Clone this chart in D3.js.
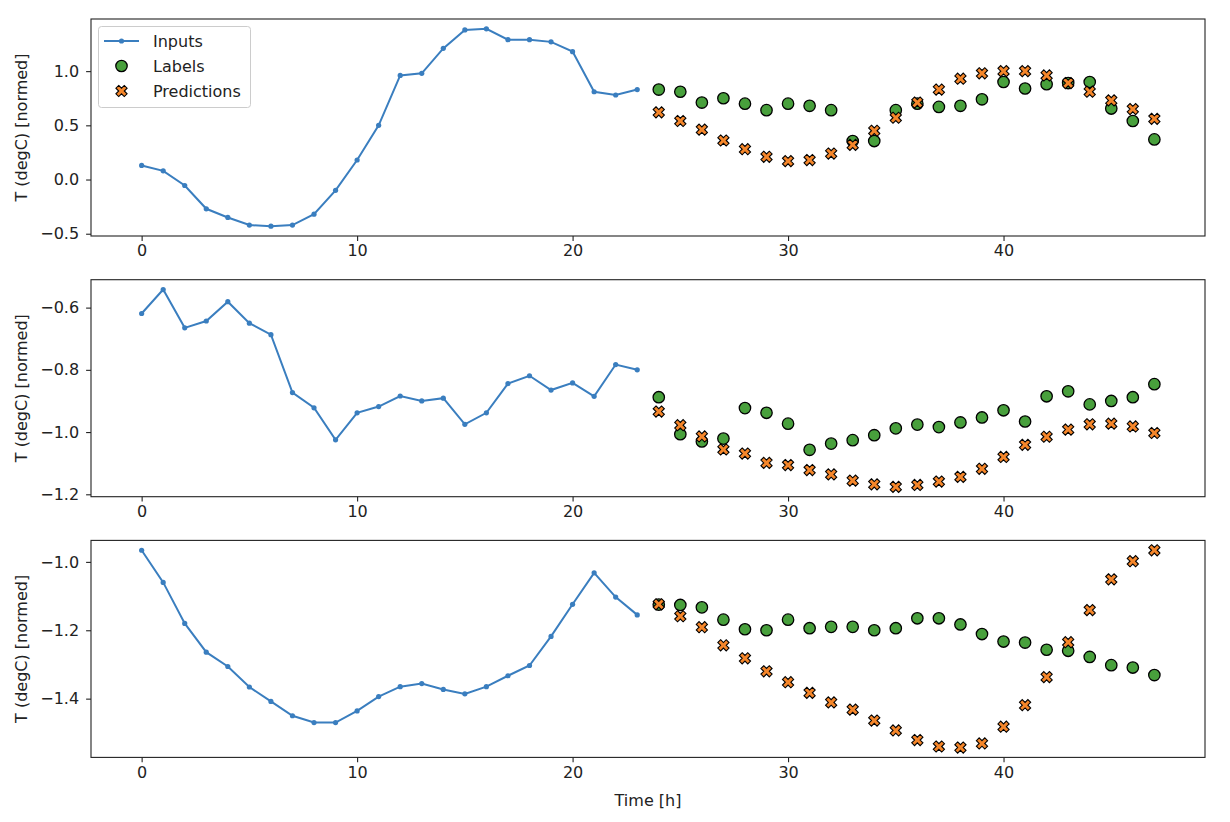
<!DOCTYPE html>
<html>
<head>
<meta charset="utf-8">
<script src="https://cdn.jsdelivr.net/npm/d3@7"></script>
<style>
body { margin: 0; background: #fff; }
svg { display: block; font-family: "DejaVu Sans", sans-serif; }
</style>
</head>
<body>
<div id="chart"></div>
<script>
// Hours: first 24 are inputs, last 24 are labels / predictions
const inputHours = d3.range(0, 24);
const labelHours = d3.range(24, 48);

// Panel 1
const inputs1 = [0.13, 0.08, -0.055, -0.27, -0.35, -0.42, -0.43, -0.42, -0.32, -0.10, 0.18, 0.50,
  0.96, 0.98, 1.21, 1.38, 1.39, 1.29, 1.29, 1.27, 1.18, 0.81, 0.78, 0.83];
const labels1 = [0.83, 0.81, 0.71, 0.75, 0.70, 0.64, 0.70, 0.68, 0.64, 0.355, 0.355, 0.64,
  0.70, 0.67, 0.68, 0.74, 0.90, 0.84, 0.88, 0.89, 0.90, 0.655, 0.54, 0.37];
const preds1 = [0.62, 0.54, 0.46, 0.36, 0.28, 0.21, 0.17, 0.18, 0.24, 0.32, 0.45, 0.57,
  0.71, 0.83, 0.93, 0.98, 1.00, 1.00, 0.96, 0.89, 0.81, 0.73, 0.65, 0.56];

// Panel 2
const inputs2 = [-0.619, -0.542, -0.665, -0.643, -0.581, -0.650, -0.687, -0.873, -0.922, -1.025, -0.938, -0.918,
  -0.884, -0.900, -0.891, -0.975, -0.938, -0.844, -0.819, -0.865, -0.842, -0.885, -0.783, -0.800];
const labels2 = [-0.888, -1.007, -1.030, -1.021, -0.923, -0.938, -0.973, -1.057, -1.037, -1.026, -1.010, -0.988,
  -0.976, -0.984, -0.969, -0.953, -0.930, -0.966, -0.885, -0.869, -0.911, -0.900, -0.888, -0.846];
const preds2 = [-0.934, -0.978, -1.014, -1.056, -1.069, -1.099, -1.106, -1.122, -1.136, -1.156, -1.168, -1.176,
  -1.170, -1.159, -1.144, -1.118, -1.080, -1.041, -1.015, -0.992, -0.975, -0.973, -0.982, -1.003];

// Panel 3
const inputs3 = [-0.966, -1.060, -1.180, -1.264, -1.306, -1.366, -1.408, -1.450, -1.470, -1.470, -1.436, -1.394,
  -1.365, -1.356, -1.373, -1.386, -1.365, -1.333, -1.303, -1.218, -1.124, -1.032, -1.103, -1.155];
const labels3 = [-1.125, -1.126, -1.133, -1.169, -1.197, -1.200, -1.169, -1.194, -1.190, -1.190, -1.200, -1.194,
  -1.165, -1.165, -1.183, -1.211, -1.233, -1.236, -1.257, -1.260, -1.278, -1.302, -1.309, -1.331];
const preds3 = [-1.124, -1.159, -1.191, -1.244, -1.282, -1.320, -1.352, -1.383, -1.411, -1.432, -1.464, -1.493,
  -1.521, -1.540, -1.543, -1.531, -1.482, -1.419, -1.337, -1.235, -1.141, -1.051, -0.998, -0.966];

// Tick values
const xTicks = [0, 10, 20, 30, 40];
const yTicks1 = [-0.5, 0.0, 0.5, 1.0];
const yTicks2 = [-1.2, -1.0, -0.8, -0.6];
const yTicks3 = [-1.4, -1.2, -1.0];

const panels = [
  {inputs: inputs1, labels: labels1, preds: preds1, ticks: yTicks1},
  {inputs: inputs2, labels: labels2, preds: preds2, ticks: yTicks2},
  {inputs: inputs3, labels: labels3, preds: preds3, ticks: yTicks3}
];

const colInputs = "#3a7ebf";
const colLabels = "#48a03c";
const colPreds = "#f5862a";
const fontSize = 16;

const W = 1230, H = 822;
const plotLeft = 91, plotRight = 1205;
const panelH = 217, panelStep = 260.7, firstTop = 19;

const svg = d3.select("#chart").append("svg")
  .attr("width", W)
  .attr("height", H);

// matplotlib style 5% padding on data limits
function padded(ext) {
  const p = (ext[1] - ext[0]) * 0.05;
  return [ext[0] - p, ext[1] + p];
}

const allHours = inputHours.concat(labelHours);
const x = d3.scaleLinear()
  .domain(padded(d3.extent(allHours)))
  .range([plotLeft, plotRight]);

const fmt = d3.format(".1f");
const xSymbol = d3.symbol().type(d3.symbolCross).size(78);

panels.forEach((p, i) => {
  const top = firstTop + i * panelStep;
  const bottom = top + panelH;
  const y = d3.scaleLinear()
    .domain(padded(d3.extent(p.inputs.concat(p.labels, p.preds))))
    .range([bottom, top]);

  const g = svg.append("g");

  // Inputs line
  const line = d3.line()
    .x((d, j) => x(inputHours[j]))
    .y(d => y(d));
  g.append("path")
    .datum(p.inputs)
    .attr("fill", "none")
    .attr("stroke", colInputs)
    .attr("stroke-width", 2)
    .attr("d", line);
  g.selectAll(".dot")
    .data(p.inputs)
    .enter().append("circle")
    .attr("cx", (d, j) => x(inputHours[j]))
    .attr("cy", d => y(d))
    .attr("r", 2.6)
    .attr("fill", colInputs);

  // Labels
  g.selectAll(".lab")
    .data(p.labels)
    .enter().append("circle")
    .attr("cx", (d, j) => x(labelHours[j]))
    .attr("cy", d => y(d))
    .attr("r", 5.7)
    .attr("fill", colLabels)
    .attr("stroke", "#000")
    .attr("stroke-width", 1.3);

  // Predictions
  g.selectAll(".pred")
    .data(p.preds)
    .enter().append("path")
    .attr("d", xSymbol)
    .attr("transform", (d, j) => `translate(${x(labelHours[j])},${y(d)}) rotate(45)`)
    .attr("fill", colPreds)
    .attr("stroke", "#000")
    .attr("stroke-width", 1.1);

  // Axes
  const xAxis = g.append("g")
    .attr("transform", `translate(0,${bottom})`)
    .call(d3.axisBottom(x).tickValues(xTicks).tickSize(4.9).tickPadding(4).tickSizeOuter(0));
  const yAxis = g.append("g")
    .attr("transform", `translate(${plotLeft},0)`)
    .call(d3.axisLeft(y).tickValues(p.ticks).tickFormat(fmt).tickSize(4.9).tickPadding(7).tickSizeOuter(0));
  [xAxis, yAxis].forEach(a => {
    a.select(".domain").remove();
    a.selectAll("text").attr("font-size", fontSize).attr("fill", "#222").attr("font-family", "DejaVu Sans");
    a.selectAll("line").attr("stroke", "#222").attr("stroke-width", 1.1);
  });

  // Frame
  g.append("rect")
    .attr("x", plotLeft)
    .attr("y", top)
    .attr("width", plotRight - plotLeft)
    .attr("height", panelH)
    .attr("fill", "none")
    .attr("stroke", "#222")
    .attr("stroke-width", 1.1);

  // Y label
  g.append("text")
    .attr("transform", `translate(27,${(top + bottom) / 2}) rotate(-90)`)
    .attr("text-anchor", "middle")
    .attr("font-size", fontSize)
    .attr("fill", "#222")
    .text("T (degC) [normed]");

  // Legend on first panel
  if (i === 0) {
    const lg = svg.append("g");
    lg.append("rect")
      .attr("x", 98.5).attr("y", 26.5)
      .attr("width", 152).attr("height", 81)
      .attr("rx", 3)
      .attr("fill", "#fff").attr("fill-opacity", 0.8)
      .attr("stroke", "#ccc");
    const rows = [41, 66, 91];
    lg.append("line")
      .attr("x1", 104).attr("x2", 139).attr("y1", rows[0]).attr("y2", rows[0])
      .attr("stroke", colInputs).attr("stroke-width", 2);
    lg.append("circle")
      .attr("cx", 121.5).attr("cy", rows[0]).attr("r", 2.6).attr("fill", colInputs);
    lg.append("circle")
      .attr("cx", 121.5).attr("cy", rows[1]).attr("r", 5.7)
      .attr("fill", colLabels).attr("stroke", "#000").attr("stroke-width", 1.3);
    lg.append("path")
      .attr("d", xSymbol)
      .attr("transform", `translate(121.5,${rows[2]}) rotate(45)`)
      .attr("fill", colPreds).attr("stroke", "#000").attr("stroke-width", 1.1);
    ["Inputs", "Labels", "Predictions"].forEach((t, k) => {
      lg.append("text")
        .attr("x", 153).attr("y", rows[k])
        .attr("dy", "0.35em")
        .attr("font-size", fontSize)
        .attr("fill", "#222")
        .text(t);
    });
  }

  if (i === panels.length - 1) {
    svg.append("text")
      .attr("x", (plotLeft + plotRight) / 2)
      .attr("y", 806)
      .attr("text-anchor", "middle")
      .attr("font-size", fontSize)
      .attr("fill", "#222")
      .text("Time [h]");
  }
});
</script>
</body>
</html>
